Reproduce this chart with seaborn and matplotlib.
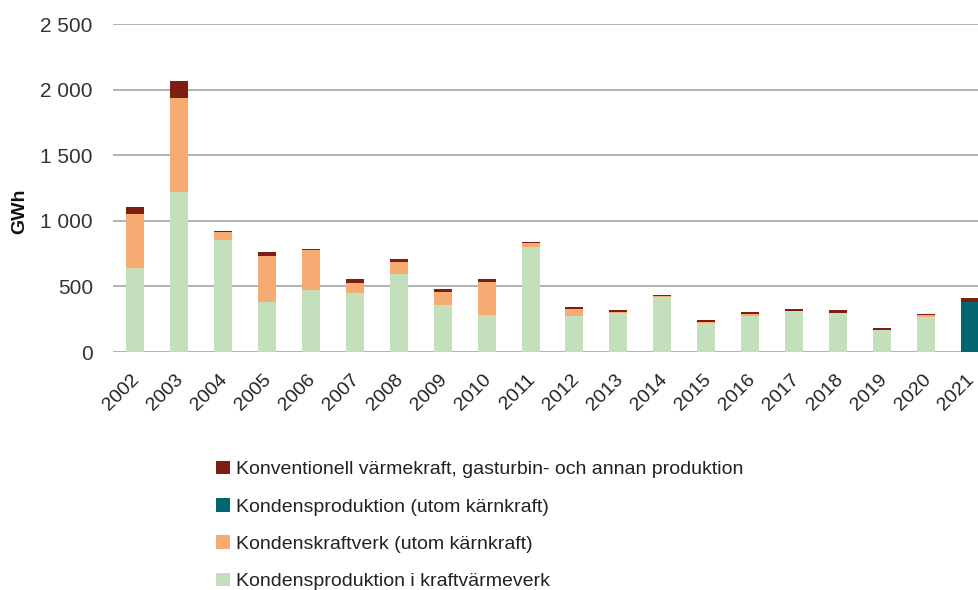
import numpy as np
import pandas as pd
import matplotlib.pyplot as plt
import matplotlib.transforms as mtransforms
from matplotlib.patches import Patch
import seaborn as sns

# Values (GWh)
years = [str(y) for y in range(2002, 2022)]
kraftvarme = [640, 1222, 850, 383, 475, 450, 594, 358, 282, 797,
              277, 294, 421, 223, 277, 312, 297, 170, 267, 0]
kondenskraftverk = [414, 716, 62, 351, 300, 78, 92, 102, 251, 31,
                    53, 11, 3, 8, 10, 2, 2, 0, 12, 0]
kondensproduktion = [0, 0, 0, 0, 0, 0, 0, 0, 0, 0,
                     0, 0, 0, 0, 0, 0, 0, 0, 0, 383]
konventionell = [48, 130, 10, 30, 12, 28, 25, 18, 21, 13,
                 13, 15, 13, 13, 15, 14, 19, 13, 13, 28]

series = [
    ("Kondensproduktion i kraftvärmeverk", kraftvarme, "#C4DFBC"),
    ("Kondenskraftverk (utom kärnkraft)", kondenskraftverk, "#F5AB72"),
    ("Kondensproduktion (utom kärnkraft)", kondensproduktion, "#00666F"),
    ("Konventionell värmekraft, gasturbin- och annan produktion", konventionell, "#7F1D13"),
]

sns.set_style("white")
plt.rcParams['font.family'] = ['Liberation Sans', 'DejaVu Sans']

fig = plt.figure(figsize=(9.79, 5.9), dpi=100)
ax = fig.add_axes([113 / 979, 1 - 352 / 590, (992 - 113) / 979, (352 - 24) / 590])

bottom = np.zeros(len(years))
for name, vals, color in series:
    df = pd.DataFrame({"year": years, "value": vals})
    sns.barplot(data=df, x="year", y="value", color=color, width=0.41,
                bottom=bottom, ax=ax, saturation=1, edgecolor="none")
    bottom = bottom + np.array(vals)

ax.set_xlim(-0.5, 19.5)
ax.set_ylim(0, 2500)
ax.set_yticks(range(0, 2501, 500))
ax.set_yticklabels(["0", "500", "1 000", "1 500", "2 000", "2 500"],
                   fontsize=15, color="#333333")
ax.yaxis.grid(True, color="#a6a6a6", linewidth=1.2)
ax.set_axisbelow(True)
for s in ax.spines.values():
    s.set_visible(False)
ax.tick_params(axis="y", length=0, pad=14.5)
ax.tick_params(axis="x", length=0, pad=14)

# small nudge so the rotated year labels sit like the original
offset = mtransforms.ScaledTranslation(-4 / 100, 0, fig.dpi_scale_trans)
for lab in ax.get_xticklabels():
    lab.set_rotation(45)
    lab.set_ha("right")
    lab.set_va("top")
    lab.set_rotation_mode("anchor")
    lab.set_fontsize(14)
    lab.set_color("#222222")
    lab.set_transform(lab.get_transform() + offset)

ax.set_xlabel("")
ax.set_ylabel("GWh", fontsize=14, fontweight="bold", color="#111111")
ax.yaxis.set_label_coords(-0.096, 0.43)

handles = [Patch(facecolor=c, edgecolor="none", label=n) for n, _, c in reversed(series)]
fig.legend(handles=handles, loc="upper left", bbox_to_anchor=(199 / 979, 1 - 443 / 590),
           frameon=False, fontsize=14, handlelength=0.7, handleheight=0.7,
           handletextpad=0.3, labelspacing=1.02, labelcolor="#222222")

fig.savefig("out.png", dpi=100)
